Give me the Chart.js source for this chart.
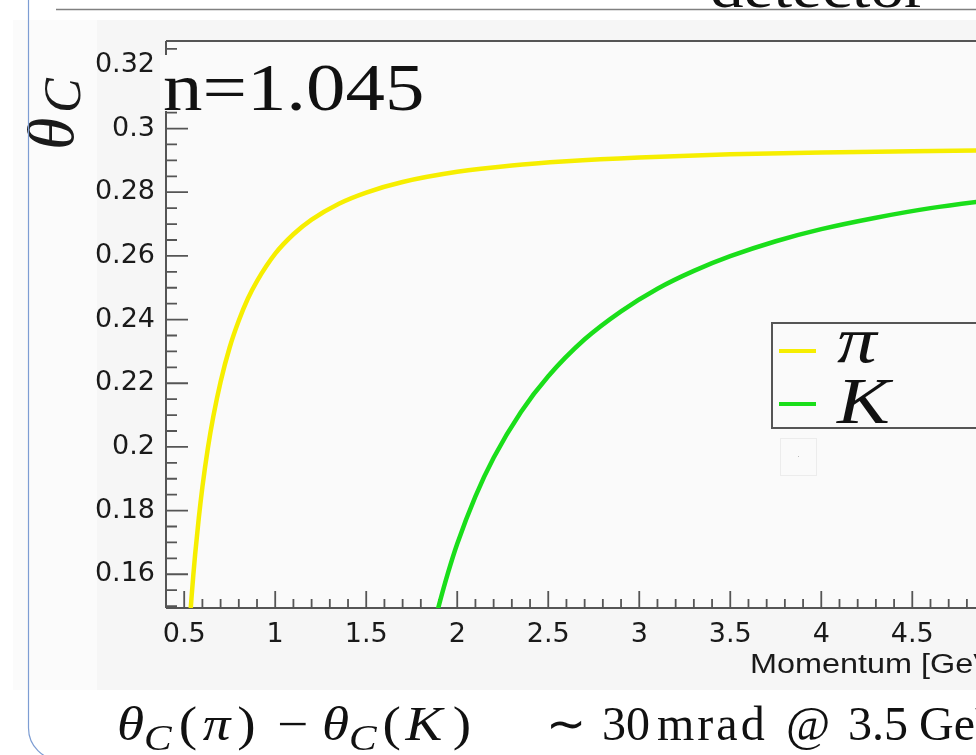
<!DOCTYPE html>
<html>
<head>
<meta charset="utf-8">
<script src="https://cdn.jsdelivr.net/npm/chart.js@4.4.1/dist/chart.umd.min.js"></script>
<style>
  html, body { margin: 0; padding: 0; background: #fff; overflow: hidden; }
  #wrap { width: 976px; height: 755px; position: relative; }
</style>
</head>
<body>
<div id="wrap"><canvas id="thetaChart" width="976" height="755"></canvas></div>
<script>
// Cherenkov angle vs momentum, n = 1.045
const pionMomentum = [0.53, 0.54, 0.55, 0.56, 0.58, 0.60, 0.63, 0.66, 0.70, 0.75, 0.80, 0.85, 0.90, 1.0, 1.1, 1.2, 1.35, 1.5, 1.7, 2.0, 2.3, 2.6, 3.0, 3.5, 4.0, 4.5, 5.0];
const pionAngle    = [0.1445, 0.1525, 0.1597, 0.1662, 0.1776, 0.1874, 0.1996, 0.2096, 0.2205, 0.2313, 0.2397, 0.2466, 0.2521, 0.2607, 0.2668, 0.2714, 0.2764, 0.2799, 0.2832, 0.2864, 0.2884, 0.2897, 0.2909, 0.2919, 0.2925, 0.2929, 0.2932];
const kaonMomentum = [1.88, 1.90, 1.95, 2.0, 2.1, 2.2, 2.35, 2.5, 2.7, 2.9, 3.1, 3.3, 3.5, 3.75, 4.0, 4.3, 4.6, 5.0];
const kaonAngle    = [0.1459, 0.1504, 0.1606, 0.1696, 0.1845, 0.1966, 0.2110, 0.2222, 0.2338, 0.2426, 0.2497, 0.2553, 0.2599, 0.2646, 0.2684, 0.2720, 0.2750, 0.2780];

const xTickValues = [0.5, 1, 1.5, 2, 2.5, 3, 3.5, 4, 4.5];
const yTickValues = [0.16, 0.18, 0.2, 0.22, 0.24, 0.26, 0.28, 0.3, 0.32];
const seriesNames = ['π', 'K'];

const serif = '"Liberation Serif", "Times New Roman", serif';
const sans  = '"Liberation Sans", Arial, sans-serif';
const F = (size, italic) => (italic ? 'italic ' : '') + size + 'px ' + serif;
const STRETCH = 1.2;   // the slide picture is widened horizontally

const toPoints = (xs, ys) => xs.map((x, i) => ({ x: x, y: ys[i] }));

// draws runs of text one after another, optionally widened like the slide
function drawRuns(c, x0, y0, runs, sx) {
  c.save();
  c.translate(x0, y0);
  c.scale(sx, 1);
  let x = 0;
  runs.forEach(r => {
    c.font = r[1];
    c.fillText(r[0], x, r[2] || 0);
    x += c.measureText(r[0]).width + (r[3] || 0);
  });
  c.restore();
}

// ROOT look: pad background, frame, inward ticks, text boxes
const rootLook = {
  id: 'rootLook',
  beforeDraw(chart) {
    const c = chart.ctx, a = chart.chartArea;
    c.save();
    c.fillStyle = '#ffffff';
    c.fillRect(0, 0, chart.width, chart.height);
    c.fillStyle = '#fbfbfb';
    c.fillRect(13, 20, 84, 670);
    c.fillStyle = '#f6f6f6';
    c.fillRect(97, 20, chart.width - 97, 670);
    c.fillStyle = '#fafafa';
    c.fillRect(a.left, a.top, a.right - a.left, a.bottom - a.top);
    c.restore();
  },
  beforeDatasetsDraw(chart) {
    const c = chart.ctx, a = chart.chartArea;
    const xs = chart.scales.x, ys = chart.scales.y;
    c.save();
    c.strokeStyle = '#555';
    c.lineWidth = 2;
    c.beginPath();
    c.moveTo(a.left, a.top);    c.lineTo(a.right + 2, a.top);
    c.moveTo(a.left, a.top);    c.lineTo(a.left, a.bottom);
    c.moveTo(a.left, a.bottom); c.lineTo(a.right + 2, a.bottom);
    c.stroke();
    c.lineWidth = 1.8;
    c.beginPath();
    for (let i = 5; i <= 48; i++) {          // every 0.1 GeV
      const px = xs.getPixelForValue(i / 10);
      const len = i % 5 === 0 ? 17 : 9;
      c.moveTo(px, a.bottom); c.lineTo(px, a.bottom - len);
    }
    for (let i = 30; i <= 65; i++) {         // every 0.005 rad
      const py = ys.getPixelForValue(i * 0.005);
      const len = i % 4 === 0 ? 22 : 11;
      c.moveTo(a.left, py); c.lineTo(a.left + len, py);
    }
    c.stroke();
    c.restore();
  },
  afterDatasetsDraw(chart) {
    const c = chart.ctx;
    c.save();
    // n label with its opaque pave
    c.fillStyle = '#fafafa';
    c.fillRect(160, 55, 272, 56);
    c.fillStyle = '#111';
    c.textBaseline = 'alphabetic';
    drawRuns(c, 163, 110, [['n=1.045', F(68)]], 1.16);

    // legend
    c.fillStyle = '#fafafa';
    c.fillRect(772, 323, 260, 105);
    c.strokeStyle = '#555';
    c.lineWidth = 2;
    c.strokeRect(772, 323, 260, 105);
    const rowLine = [351, 404], rowBase = [362, 423];
    chart.data.datasets.forEach((ds, i) => {
      c.strokeStyle = ds.borderColor;
      c.lineWidth = 4;
      c.beginPath();
      c.moveTo(779, rowLine[i]); c.lineTo(816, rowLine[i]);
      c.stroke();
      c.fillStyle = '#111';
      drawRuns(c, 837, rowBase[i], [[ds.label, F(66, true)]], STRETCH);
    });
    // empty leftover legend entry
    c.strokeStyle = '#ececec';
    c.lineWidth = 1;
    c.strokeRect(780.5, 438.5, 36, 37);
    c.fillStyle = '#bbb';
    c.fillRect(798, 456, 1, 1);
    c.restore();
  },
  afterDraw(chart) {
    const c = chart.ctx;
    c.save();
    // x axis title, right aligned on the (cropped) axis end
    c.fillStyle = '#1a1a1a';
    c.textBaseline = 'middle';
    drawRuns(c, 750, 666, [['Momentum [GeV]', '27px ' + sans]], STRETCH);

    // y axis title theta_C
    c.textBaseline = 'alphabetic';
    c.translate(73, 150);
    c.rotate(-Math.PI / 2);
    c.font = F(66, true);
    c.fillText('θ', 0, 0);
    c.font = F(52, true);
    c.fillText('C', 37, 7);
    c.setTransform(1, 0, 0, 1, 0, 0);

    // slide decorations
    c.fillStyle = '#111';
    drawRuns(c, 710, 7, [['detector', F(56)]], STRETCH);
    c.strokeStyle = '#808080';
    c.lineWidth = 1.5;
    c.beginPath();
    c.moveTo(56, 9.5); c.lineTo(chart.width, 9.5);
    c.stroke();
    c.strokeStyle = '#7d9dd3';
    c.lineWidth = 1.2;
    c.beginPath();
    c.moveTo(28.5, 0);
    c.lineTo(28.5, 725);
    c.arcTo(28.5, 760, 60, 760, 32);
    c.stroke();

    // bottom formula, in groups anchored where the slide has them
    c.fillStyle = '#111';
    const big = F(48), bigI = F(48, true), sub = F(36, true);
    drawRuns(c, 117, 740, [['θ', bigI, 0, 0], ['C', sub, 10, 6], ['(', big, 0, 5], ['π', bigI, 0, 6], [')', big]], 1.15);
    drawRuns(c, 277, 740, [['−', big]], 1.15);
    drawRuns(c, 322, 740, [['θ', bigI, 0, 0], ['C', sub, 10, 5], ['(', big, 0, 4], ['K', bigI, 0, 9], [')', big]], 1.15);
    drawRuns(c, 546, 740, [['∼', big]], 1);
    drawRuns(c, 602, 740, [['30', big]], 1);
    c.letterSpacing = '3px';
    drawRuns(c, 657, 740, [['mrad', big]], 1);
    c.letterSpacing = '0px';
    drawRuns(c, 786, 740, [['@', big]], 1);
    drawRuns(c, 848, 740, [['3.5', big]], 1);
    drawRuns(c, 919, 740, [['GeV', big]], 1);
    c.restore();
  }
};

const ctx = document.getElementById('thetaChart').getContext('2d');
const thetaChart = new Chart(ctx, {
  type: 'scatter',
  data: {
    datasets: [{
      label: seriesNames[0],
      data: toPoints(pionMomentum, pionAngle),
      showLine: true,
      borderColor: '#f6ee00',
      borderWidth: 4.5,
      pointRadius: 0,
      cubicInterpolationMode: 'monotone',
      clip: 0
    }, {
      label: seriesNames[1],
      data: toPoints(kaonMomentum, kaonAngle),
      showLine: true,
      borderColor: '#1ade1a',
      borderWidth: 4.5,
      pointRadius: 0,
      cubicInterpolationMode: 'monotone',
      clip: 0
    }]
  },
  options: {
    responsive: false,
    devicePixelRatio: 1,
    animation: false,
    layout: { padding: { left: 0, right: 0, top: 41, bottom: 0 } },
    plugins: { legend: { display: false }, tooltip: { enabled: false } },
    scales: {
      x: {
        type: 'linear',
        min: 0.4,
        max: 4.85,
        grid: { display: false },
        border: { display: false },
        afterBuildTicks: s => { s.ticks = xTickValues.map(v => ({ value: v })); },
        afterFit: s => { s.height = 147; },
        ticks: {
          autoSkip: false,
          maxRotation: 0,
          padding: 3,
          color: '#1a1a1a',
          font: { family: 'DejaVu Sans', size: 27 },
          callback: v => String(v)
        }
      },
      y: {
        type: 'linear',
        min: 0.1494,
        max: 0.3275,
        grid: { display: false },
        border: { display: false },
        afterBuildTicks: s => { s.ticks = yTickValues.map(v => ({ value: v })); },
        afterFit: s => { s.width = 166; },
        ticks: {
          autoSkip: false,
          padding: 3,
          color: '#1a1a1a',
          font: { family: 'DejaVu Sans', size: 27 },
          callback: v => String(v)
        }
      }
    }
  },
  plugins: [rootLook]
});
</script>
</body>
</html>
